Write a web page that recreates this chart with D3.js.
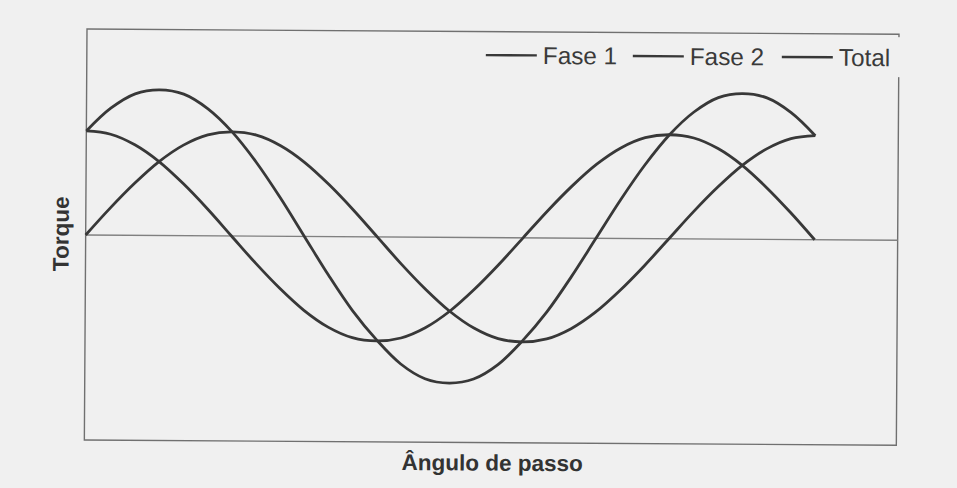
<!DOCTYPE html>
<html>
<head>
<meta charset="utf-8">
<script src="https://cdn.jsdelivr.net/npm/d3@7"></script>
<style>
  html, body { margin: 0; padding: 0; background: #f0f0f0; }
  svg { display: block; }
</style>
</head>
<body>
<svg id="chart" width="957" height="488"></svg>
<script>
// Step angle (degrees) and torque of each phase, in units of the phase peak torque
const angles = [0, 15, 30, 45, 60, 75, 90, 105, 120, 135, 150, 165, 180, 195, 210, 225,
                240, 255, 270, 285, 300, 315, 330, 345, 360, 375, 390, 405, 420, 435, 450];
const fase1 = [1.00, 0.97, 0.87, 0.71, 0.50, 0.26, 0.00, -0.26, -0.50, -0.71, -0.87, -0.97, -1.00, -0.97, -0.87, -0.71,
               -0.50, -0.26, 0.00, 0.26, 0.50, 0.71, 0.87, 0.97, 1.00, 0.97, 0.87, 0.71, 0.50, 0.26, 0.00];
const fase2 = [0.00, 0.26, 0.50, 0.71, 0.87, 0.97, 1.00, 0.97, 0.87, 0.71, 0.50, 0.26, 0.00, -0.26, -0.50, -0.71,
               -0.87, -0.97, -1.00, -0.97, -0.87, -0.71, -0.50, -0.26, 0.00, 0.26, 0.50, 0.71, 0.87, 0.97, 1.00];
const total = [1.00, 1.22, 1.36, 1.40, 1.36, 1.22, 1.00, 0.71, 0.37, 0.00, -0.37, -0.71, -0.99, -1.22, -1.36, -1.40,
               -1.36, -1.22, -0.99, -0.71, -0.37, 0.00, 0.37, 0.71, 1.00, 1.22, 1.36, 1.40, 1.36, 1.22, 1.00];
const seriesNames = ["Fase 1", "Fase 2", "Total"];
const xTitle = "Ângulo de passo";
const yTitle = "Torque";

const svg = d3.select("#chart");
const W = 812, H = 411;           // plot area
const ink = "#383838";

// whole figure sits slightly tilted on the page
const g = svg.append("g").attr("transform", "translate(87,29) rotate(0.37)");

const x = d3.scaleLinear().domain([0, 450]).range([0, 729]);
const y = d3.scaleLinear().domain([-1.97, 1.98]).range([H, 0]);

// plot frame
g.append("rect")
  .attr("x", 0).attr("y", 0).attr("width", W).attr("height", H)
  .attr("fill", "none").attr("stroke", "#707070").attr("stroke-width", 1.4);

// zero torque line
g.append("line")
  .attr("x1", 0).attr("x2", W).attr("y1", y(0)).attr("y2", y(0))
  .attr("stroke", "#808080").attr("stroke-width", 1.4);

const line = d3.line()
  .x((d, i) => x(angles[i]))
  .y(d => y(d))
  .curve(d3.curveCatmullRom.alpha(0.5));

[fase1, fase2, total].forEach(s => {
  g.append("path")
    .datum(s)
    .attr("d", line)
    .attr("fill", "none")
    .attr("stroke", ink)
    .attr("stroke-width", 2.8)
    .attr("stroke-linejoin", "round");
});

// legend (its box hides the top of the right frame edge)
const legend = g.append("g");
legend.append("rect")
  .attr("x", 380).attr("y", 3).attr("width", 445).attr("height", 40)
  .attr("fill", "#f0f0f0");
const legendX = [399, 546, 695];
seriesNames.forEach((name, i) => {
  legend.append("line")
    .attr("x1", legendX[i]).attr("x2", legendX[i] + 51)
    .attr("y1", 23.5).attr("y2", 23.5)
    .attr("stroke", ink).attr("stroke-width", 2.4);
  legend.append("text")
    .attr("x", legendX[i] + 57).attr("y", 32)
    .attr("font-family", "'Liberation Sans', Arial, sans-serif")
    .attr("font-size", 24.3)
    .attr("fill", "#3a3a3a")
    .text(name);
});

// axis titles
g.append("text")
  .attr("x", 408).attr("y", 439)
  .attr("text-anchor", "middle")
  .attr("font-family", "'Liberation Sans', Arial, sans-serif")
  .attr("font-weight", "bold")
  .attr("font-size", 22.5)
  .attr("fill", "#333")
  .text(xTitle);

g.append("text")
  .attr("transform", "translate(-17,205) rotate(-90)")
  .attr("text-anchor", "middle")
  .attr("font-family", "'Liberation Sans', Arial, sans-serif")
  .attr("font-weight", "bold")
  .attr("font-size", 22.5)
  .attr("fill", "#333")
  .text(yTitle);
</script>
</body>
</html>
